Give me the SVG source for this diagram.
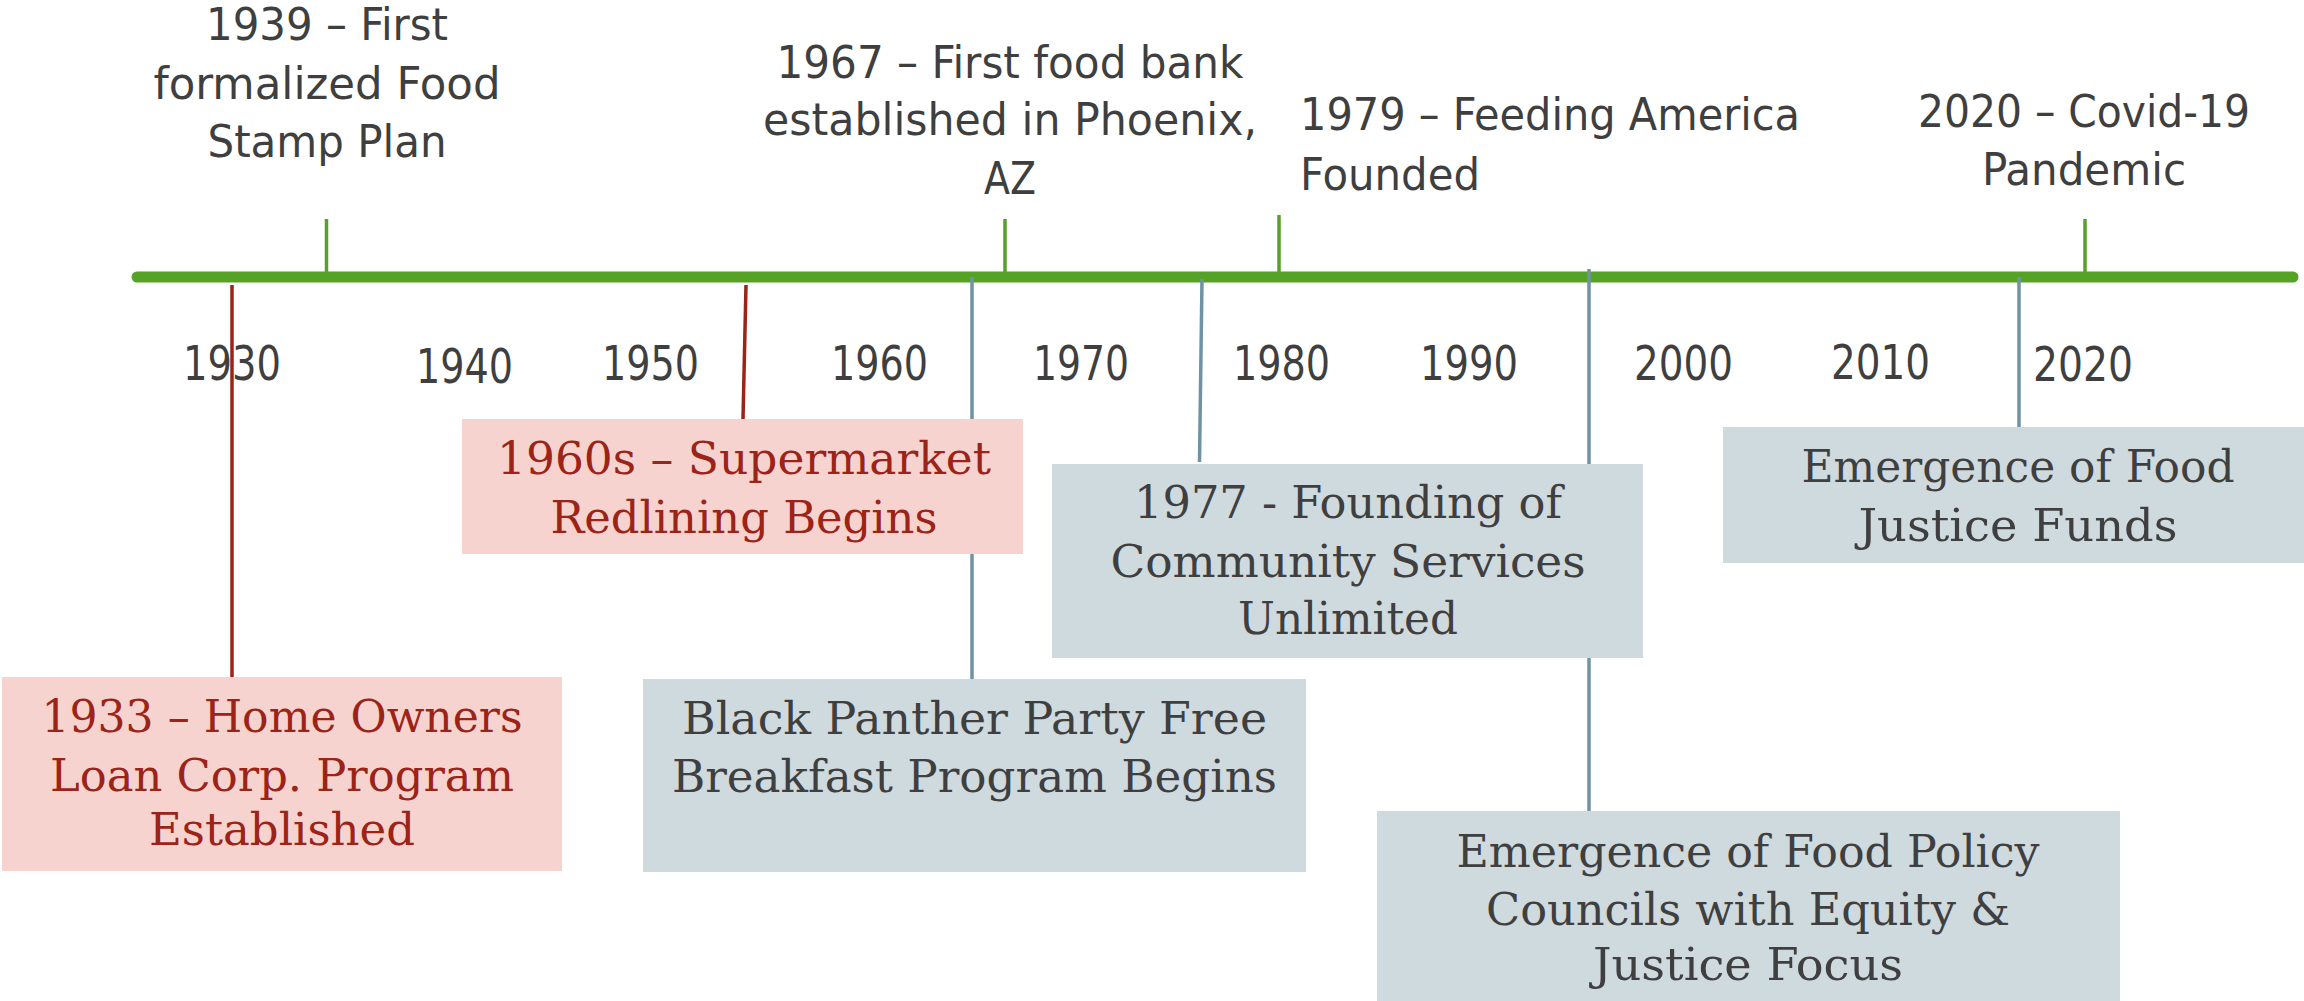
<svg xmlns="http://www.w3.org/2000/svg" width="2304" height="1001" viewBox="0 0 2304 1001">
<style>
.sans{font-family:"DejaVu Sans Condensed","DejaVu Sans","Open Sans",sans-serif;font-size:45px;fill:#3f3f3f;}
.yr{font-size:48px;}
.mid{text-anchor:middle;}
.ser{font-family:"DejaVu Serif Condensed","DejaVu Serif","Liberation Serif",serif;font-size:45px;text-anchor:middle;}
.red{fill:#9b2318;}
.gry{fill:#3f3f3f;}
.pink{fill:#f7d3cf;}
.blue{fill:#cfdadf;}
.tick{stroke:#55a226;stroke-width:3.5;}
.rl{stroke:#9b2318;stroke-width:3.5;fill:none;}
.bl{stroke:#6f93a3;stroke-width:3.5;fill:none;}
</style>
<rect width="2304" height="1001" fill="#ffffff"/>
<g id="timeline">
<line x1="137" y1="277" x2="2293" y2="277" stroke="#55a226" stroke-width="11" stroke-linecap="round"/>
<line class="tick" x1="326.5" y1="219" x2="326.5" y2="277"/>
<line class="tick" x1="1005" y1="219" x2="1005" y2="277"/>
<line class="tick" x1="1279" y1="215" x2="1279" y2="277"/>
<line class="tick" x1="2085" y1="219" x2="2085" y2="277"/>
</g>
<g id="years" class="sans yr mid">
<text x="232" y="380" textLength="98" lengthAdjust="spacingAndGlyphs">1930</text>
<text x="464.5" y="383" textLength="97" lengthAdjust="spacingAndGlyphs">1940</text>
<text x="650.5" y="380" textLength="97" lengthAdjust="spacingAndGlyphs">1950</text>
<text x="879.5" y="380" textLength="97" lengthAdjust="spacingAndGlyphs">1960</text>
<text x="1081" y="380" textLength="96" lengthAdjust="spacingAndGlyphs">1970</text>
<text x="1281.5" y="380" textLength="97" lengthAdjust="spacingAndGlyphs">1980</text>
<text x="1469" y="380" textLength="98" lengthAdjust="spacingAndGlyphs">1990</text>
<text x="1683.5" y="380" textLength="99" lengthAdjust="spacingAndGlyphs">2000</text>
<text x="1880.5" y="379" textLength="99" lengthAdjust="spacingAndGlyphs">2010</text>
<text x="2083" y="381" textLength="100" lengthAdjust="spacingAndGlyphs">2020</text>
</g>
<g id="connectors">
<line class="rl" x1="232" y1="285" x2="232" y2="677"/>
<line class="rl" x1="746" y1="285" x2="743" y2="419"/>
<line class="bl" x1="972" y1="277" x2="972" y2="679"/>
<line class="bl" x1="1202" y1="279" x2="1199.5" y2="462"/>
<line class="bl" x1="1589" y1="269" x2="1589" y2="811"/>
<line class="bl" x1="2019" y1="277" x2="2019" y2="427"/>
</g>
<g id="e1939" class="sans mid">
<text x="327" y="40" textLength="242" lengthAdjust="spacingAndGlyphs">1939 – First</text>
<text x="327" y="99" textLength="347" lengthAdjust="spacingAndGlyphs">formalized Food</text>
<text x="327" y="157" textLength="239" lengthAdjust="spacingAndGlyphs">Stamp Plan</text>
</g>
<g id="e1967" class="sans mid">
<text x="1010" y="78" textLength="467" lengthAdjust="spacingAndGlyphs">1967 – First food bank</text>
<text x="1010" y="135" textLength="494" lengthAdjust="spacingAndGlyphs">established in Phoenix,</text>
<text x="1010" y="194" textLength="52" lengthAdjust="spacingAndGlyphs">AZ</text>
</g>
<g id="e1979" class="sans">
<text x="1300" y="130" textLength="500" lengthAdjust="spacingAndGlyphs">1979 – Feeding America</text>
<text x="1300" y="190" textLength="180" lengthAdjust="spacingAndGlyphs">Founded</text>
</g>
<g id="e2020" class="sans mid">
<text x="2084" y="127" textLength="332" lengthAdjust="spacingAndGlyphs">2020 – Covid-19</text>
<text x="2084" y="185" textLength="204" lengthAdjust="spacingAndGlyphs">Pandemic</text>
</g>
<g id="e1933">
<rect class="pink" x="2" y="677" width="560" height="194"/>
<text class="ser red" x="282" y="732" textLength="481" lengthAdjust="spacingAndGlyphs">1933 – Home Owners</text>
<text class="ser red" x="282" y="791" textLength="464" lengthAdjust="spacingAndGlyphs">Loan Corp. Program</text>
<text class="ser red" x="282" y="845" textLength="266" lengthAdjust="spacingAndGlyphs">Established</text>
</g>
<g id="e1960s">
<rect class="pink" x="462" y="419" width="561" height="135"/>
<text class="ser red" x="744" y="474" textLength="494" lengthAdjust="spacingAndGlyphs">1960s – Supermarket</text>
<text class="ser red" x="744" y="533" textLength="387" lengthAdjust="spacingAndGlyphs">Redlining Begins</text>
</g>
<g id="eBPP">
<rect class="blue" x="643" y="679" width="663" height="193"/>
<text class="ser gry" x="974.5" y="734" textLength="585" lengthAdjust="spacingAndGlyphs">Black Panther Party Free</text>
<text class="ser gry" x="974.5" y="792" textLength="605" lengthAdjust="spacingAndGlyphs">Breakfast Program Begins</text>
</g>
<g id="e1977">
<rect class="blue" x="1052" y="464" width="591" height="194"/>
<text class="ser gry" x="1348" y="518" textLength="428" lengthAdjust="spacingAndGlyphs">1977 - Founding of</text>
<text class="ser gry" x="1348" y="577" textLength="475" lengthAdjust="spacingAndGlyphs">Community Services</text>
<text class="ser gry" x="1348" y="634" textLength="220" lengthAdjust="spacingAndGlyphs">Unlimited</text>
</g>
<g id="eFJF">
<rect class="blue" x="1723" y="427" width="581" height="136"/>
<text class="ser gry" x="2018" y="482" textLength="433" lengthAdjust="spacingAndGlyphs">Emergence of Food</text>
<text class="ser gry" x="2018" y="541" textLength="319" lengthAdjust="spacingAndGlyphs">Justice Funds</text>
</g>
<g id="eFPC">
<rect class="blue" x="1377" y="811" width="743" height="190"/>
<text class="ser gry" x="1748" y="867" textLength="583" lengthAdjust="spacingAndGlyphs">Emergence of Food Policy</text>
<text class="ser gry" x="1748" y="925" textLength="524" lengthAdjust="spacingAndGlyphs">Councils with Equity &amp;</text>
<text class="ser gry" x="1748" y="980" textLength="310" lengthAdjust="spacingAndGlyphs">Justice Focus</text>
</g>
</svg>
